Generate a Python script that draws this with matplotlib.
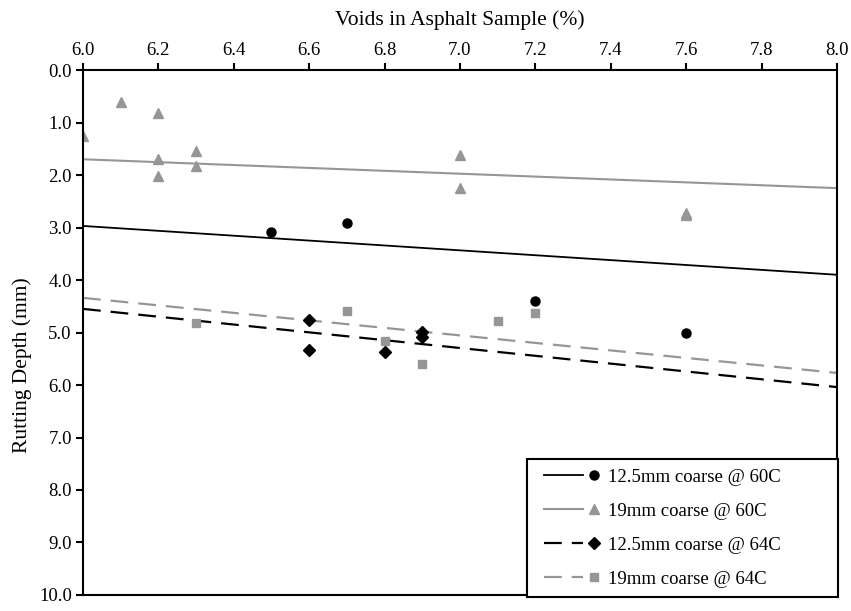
import matplotlib
matplotlib.use("Agg")
import matplotlib.pyplot as plt
from matplotlib.lines import Line2D
from matplotlib.legend_handler import HandlerBase

plt.rcParams['font.family'] = ['Liberation Serif', 'DejaVu Serif']

# 12.5mm coarse @ 60C
x_125_60 = [6.5, 6.7, 7.2, 7.6]
y_125_60 = [3.09, 2.91, 4.40, 5.01]
# 19mm coarse @ 60C
x_19_60 = [6.0, 6.1, 6.2, 6.2, 6.2, 6.3, 6.3, 7.0, 7.0, 7.6, 7.6]
y_19_60 = [1.26, 0.61, 0.82, 1.70, 2.02, 1.54, 1.83, 1.62, 2.25, 2.73, 2.77]
# 12.5mm coarse @ 64C
x_125_64 = [6.6, 6.6, 6.8, 6.9, 6.9]
y_125_64 = [4.76, 5.33, 5.37, 4.99, 5.09]
# 19mm coarse @ 64C
x_19_64 = [6.3, 6.7, 6.8, 6.9, 7.1, 7.2]
y_19_64 = [4.82, 4.59, 5.16, 5.60, 4.78, 4.63]

# linear trend lines, values at the ends of the x range
trend_x = [6.0, 8.0]
trend_125_60 = [2.97, 3.90]
trend_19_60 = [1.70, 2.25]
trend_125_64 = [4.55, 6.04]
trend_19_64 = [4.34, 5.77]

labels = ["12.5mm coarse @ 60C", "19mm coarse @ 60C",
          "12.5mm coarse @ 64C", "19mm coarse @ 64C"]
xticks = [6.0, 6.2, 6.4, 6.6, 6.8, 7.0, 7.2, 7.4, 7.6, 7.8, 8.0]
yticks = [0, 1, 2, 3, 4, 5, 6, 7, 8, 9, 10]

grey = '#969696'


class LineMarkerHandler(HandlerBase):
    # draws the trend line first, then the marker after it
    def create_artists(self, legend, orig_handle, xdescent, ydescent,
                       width, height, fontsize, trans):
        ln, mk = orig_handle
        y = height / 2 - ydescent
        a = Line2D([-xdescent + 0.11 * width, -xdescent + 0.71 * width], [y, y])
        a.update_from(ln)
        a.set_marker('None')
        b = Line2D([-xdescent + 0.89 * width], [y])
        b.update_from(mk)
        b.set_linestyle('None')
        a.set_transform(trans)
        b.set_transform(trans)
        return [a, b]


fig = plt.figure(figsize=(8.51, 6.11), dpi=100)
ax = fig.add_axes([0.0975, 0.0262, 0.886, 0.8592])

l1, = ax.plot(trend_x, trend_125_60, color='black', lw=1.3)
l2, = ax.plot(trend_x, trend_19_60, color=grey, lw=1.5)
l3, = ax.plot(trend_x, trend_125_64, color='black', lw=1.6, dashes=(8, 4.5))
l4, = ax.plot(trend_x, trend_19_64, color=grey, lw=1.6, dashes=(8, 4.5))

m1, = ax.plot(x_125_60, y_125_60, 'o', color='black', ms=6.5, ls='None')
m2, = ax.plot(x_19_60, y_19_60, '^', color=grey, ms=7.5, ls='None')
m3, = ax.plot(x_125_64, y_125_64, 'D', color='black', ms=6, ls='None')
m4, = ax.plot(x_19_64, y_19_64, 's', color=grey, ms=5.5, ls='None')

ax.set_xlim(6.0, 8.0)
ax.set_ylim(10.0, 0.0)
ax.set_xticks(xticks)
ax.set_xticklabels([f"{v:.1f}" for v in xticks])
ax.set_yticks(yticks)
ax.set_yticklabels([f"{v:.1f}" for v in yticks])

ax.xaxis.tick_top()
ax.xaxis.set_label_position('top')
ax.tick_params(axis='x', direction='out', length=5, width=1.5, labelsize=13.5, pad=3)
ax.tick_params(axis='y', direction='out', length=5, width=1.5, labelsize=13.5, pad=3)
for s in ax.spines.values():
    s.set_linewidth(1.5)

ax.set_xlabel("Voids in Asphalt Sample (%)", fontsize=15.5, labelpad=12)
ax.set_ylabel("Rutting Depth (mm)", fontsize=15.5)
ax.yaxis.set_label_coords(-0.067, 0.438)

leg = ax.legend([(l1, m1), (l2, m2), (l3, m3), (l4, m4)], labels,
                handler_map={tuple: LineMarkerHandler()},
                loc='lower left', bbox_to_anchor=(0.589, -0.004, 0.412, 0.3),
                mode='expand', borderaxespad=0,
                fontsize=13.5, handlelength=3.47, handletextpad=0.32,
                labelspacing=0.9, borderpad=0.5, fancybox=False,
                edgecolor='black', framealpha=1)
leg.get_frame().set_linewidth(1.5)

fig.savefig("out.png", dpi=100)
